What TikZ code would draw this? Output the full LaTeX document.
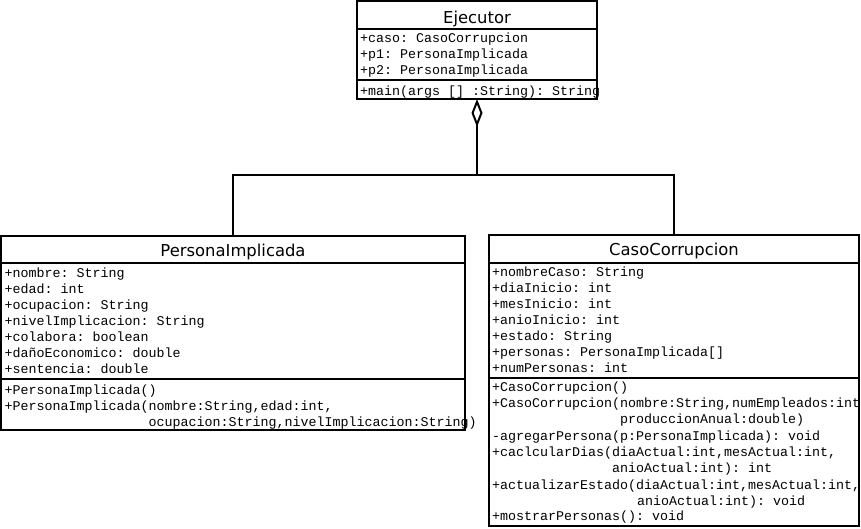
\documentclass[tikz,border=0pt]{standalone}
\usepackage{fontspec}
\setmainfont{DejaVu Sans}
\newfontfamily\umlmono{Liberation Mono}
\usetikzlibrary{arrows.meta}
\frenchspacing
\begin{document}
\begin{tikzpicture}[x=1pt,y=-1pt,
  classbox/.style={draw, line width=2pt, anchor=north west, inner sep=0pt, outer sep=0pt},
  classname/.style={anchor=base, inner sep=0pt, font=\fontsize{16.4}{18}\selectfont},
  member/.style={anchor=base west, inner sep=0pt, font=\umlmono\frenchspacing\fontsize{13.33}{16}\selectfont},
  divider/.style={line width=2pt},
  link/.style={line width=2pt}]
\useasboundingbox (0,0) rectangle (861,528);

% ---- Ejecutor ----
\node[classbox, minimum width=240pt, minimum height=98pt] (ej) at (357,1) {};
\draw[divider] ([yshift=-28pt]ej.north west) -- ([yshift=-28pt]ej.north east);
\draw[divider] ([yshift=-79pt]ej.north west) -- ([yshift=-79pt]ej.north east);
\node[classname] (ej-name) at (477,23) {Ejecutor};
\node[member] (ej-a1) at (360,42) {+caso: CasoCorrupcion};
\node[member] (ej-a2) at (360,58) {+p1: PersonaImplicada};
\node[member] (ej-a3) at (360,74) {+p2: PersonaImplicada};
\node[member] (ej-m1) at (360,95) {+main(args [] :String): String};

% ---- PersonaImplicada ----
\node[classbox, minimum width=464pt, minimum height=194pt] (pi) at (1,236) {};
\draw[divider] ([yshift=-27pt]pi.north west) -- ([yshift=-27pt]pi.north east);
\draw[divider] ([yshift=-143pt]pi.north west) -- ([yshift=-143pt]pi.north east);
\node[classname] (pi-name) at (233,256) {PersonaImplicada};
\node[member] (pi-a1) at (4.5,277) {+nombre: String};
\node[member] (pi-a2) at (4.5,293) {+edad: int};
\node[member] (pi-a3) at (4.5,309) {+ocupacion: String};
\node[member] (pi-a4) at (4.5,325) {+nivelImplicacion: String};
\node[member] (pi-a5) at (4.5,341) {+colabora: boolean};
\node[member] (pi-a6) at (4.5,357) {+dañoEconomico: double};
\node[member] (pi-a7) at (4.5,373) {+sentencia: double};
\node[member] (pi-m1) at (4.5,394) {+PersonaImplicada()};
\node[member] (pi-m2) at (4.5,410) {+PersonaImplicada(nombre:String,edad:int,};
\node[member] (pi-m2b) at (148.5,426) {ocupacion:String,nivelImplicacion:String)};

% ---- CasoCorrupcion ----
\node[classbox, minimum width=370pt, minimum height=291pt] (cc) at (489,235) {};
\draw[divider] ([yshift=-28pt]cc.north west) -- ([yshift=-28pt]cc.north east);
\draw[divider] ([yshift=-143pt]cc.north west) -- ([yshift=-143pt]cc.north east);
\node[classname] (cc-name) at (674,255) {CasoCorrupcion};
\node[member] (cc-a1) at (492,276) {+nombreCaso: String};
\node[member] (cc-a2) at (492,292) {+diaInicio: int};
\node[member] (cc-a3) at (492,308) {+mesInicio: int};
\node[member] (cc-a4) at (492,324) {+anioInicio: int};
\node[member] (cc-a5) at (492,340) {+estado: String};
\node[member] (cc-a6) at (492,356) {+personas: PersonaImplicada[]};
\node[member] (cc-a7) at (492,372) {+numPersonas: int};
\node[member] (cc-m1) at (492,391) {+CasoCorrupcion()};
\node[member] (cc-m2) at (492,407) {+CasoCorrupcion(nombre:String,numEmpleados:int};
\node[member] (cc-m2b) at (620,423) {produccionAnual:double)};
\node[member] (cc-m3) at (492,440) {-agregarPersona(p:PersonaImplicada): void};
\node[member] (cc-m4) at (492,456) {+caclcularDias(diaActual:int,mesActual:int,};
\node[member] (cc-m4b) at (612,472) {anioActual:int): int};
\node[member] (cc-m5) at (492,489) {+actualizarEstado(diaActual:int,mesActual:int,};
\node[member] (cc-m5b) at (637,505) {anioActual:int): void};
\node[member] (cc-m6) at (492,520) {+mostrarPersonas(): void};

% ---- aggregation ----
\coordinate (join) at (477,175);
\draw[link, -{Diamond[open, length=28pt, width=11pt, line width=2pt]}]
  (pi.north) |- (join) -- (ej.south);
\draw[link] (cc.north) |- (join);
\end{tikzpicture}
\end{document}
